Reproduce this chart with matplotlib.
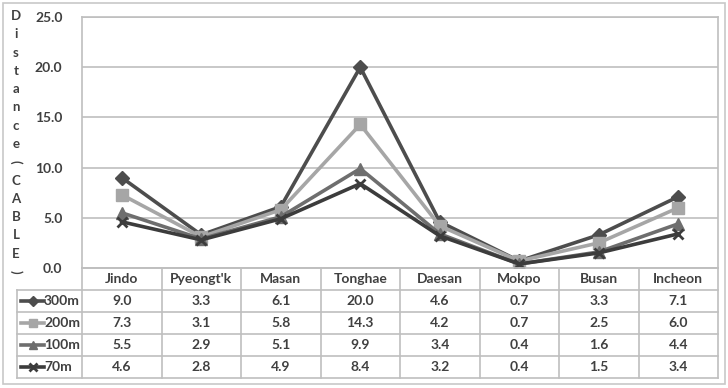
import matplotlib
matplotlib.use("Agg")
import matplotlib.pyplot as plt
from matplotlib.patches import Rectangle
from matplotlib.lines import Line2D

categories = ["Jindo", "Pyeongt'k", "Masan", "Tonghae", "Daesan", "Mokpo", "Busan", "Incheon"]
series_names = ["300m", "200m", "100m", "70m"]
s300 = [9.0, 3.3, 6.1, 20.0, 4.6, 0.7, 3.3, 7.1]
s200 = [7.3, 3.1, 5.8, 14.3, 4.2, 0.7, 2.5, 6.0]
s100 = [5.5, 2.9, 5.1, 9.9, 3.4, 0.4, 1.6, 4.4]
s70 = [4.6, 2.8, 4.9, 8.4, 3.2, 0.4, 1.5, 3.4]
series_values = [s300, s200, s100, s70]
yticks = [0.0, 5.0, 10.0, 15.0, 20.0, 25.0]
ylabel_chars = list("Distance(CABLE)")

colors = ["#4d4d4d", "#a6a6a6", "#6e6e6e", "#3c3c3c"]
markers = ["D", "s", "^", "x"]
msizes = [7, 8, 8, 7]

plt.rcParams['font.family'] = ['Lato', 'DejaVu Sans']
TXT = "#404040"
GRID = "#bfbfbf"
FS = 10

W, H = 728, 388
fig = plt.figure(figsize=(W / 100, H / 100), dpi=100)

def px(x0, y0, x1, y1):
    return [x0 / W, 1 - y1 / H, (x1 - x0) / W, (y1 - y0) / H]

# outer frame
fig.patches.append(Rectangle((3 / W, 1 - 384 / H), 722 / W, 381 / H, transform=fig.transFigure,
                             fill=False, edgecolor="#c8c8c8", lw=1.2))

L, R, T, B = 82, 718, 17, 268
ax = fig.add_axes(px(L, T, R, B))
n = len(categories)
x = list(range(n))
for vals, c, m, ms in zip(series_values, colors, markers, msizes):
    ax.plot(x, vals, color=c, lw=2.6, marker=m, markersize=ms, markeredgecolor=c,
            markeredgewidth=2 if m == "x" else 1, zorder=3)
ax.set_xlim(-0.5, n - 0.5)
ax.set_ylim(0, 25)
ax.set_yticks(yticks)
ax.set_yticklabels([f"{v:.1f}" for v in yticks], fontsize=FS, fontweight="bold", color=TXT)
ax.tick_params(axis="y", length=0, pad=14)
ax.set_xticks([])
ax.grid(axis="y", color=GRID, lw=1.2)
for sp in ax.spines.values():
    sp.set_color(GRID)
    sp.set_linewidth(1.2)
ax.set_axisbelow(True)

# vertical y label made of stacked characters
ny = len(ylabel_chars)
top_y, bot_y = 16, 272
for i, ch in enumerate(ylabel_chars):
    yy = top_y + (bot_y - top_y) * i / (ny - 1)
    rot = -90 if ch in "()" else 0
    fig.text(16 / W, 1 - yy / H, ch, fontsize=9.5, fontweight="bold", color=TXT,
             ha="center", va="center", rotation=rot)

# data table
TL, TT, TB = 17, 268, 378
colw = (R - L) / n
tax = fig.add_axes(px(TL, TT, R, TB))
xl = (TL - L) / colw - 0.5
tax.set_xlim(xl, n - 0.5)
nrows = len(series_names) + 1
tax.set_ylim(nrows, 0)
tax.axis("off")
for r in range(nrows + 1):
    x0 = -0.5 if r == 0 else xl
    tax.plot([x0, n - 0.5], [r, r], color=GRID, lw=1.2, clip_on=False)
tax.plot([xl, xl], [1, nrows], color=GRID, lw=1.2, clip_on=False)
for c in range(n + 1):
    tax.plot([c - 0.5, c - 0.5], [0, nrows], color=GRID, lw=1.2, clip_on=False)
for i, cat in enumerate(categories):
    tax.text(i, 0.5, cat, ha="center", va="center", fontsize=FS, fontweight="bold", color=TXT)
for r, (name, vals, c, m, ms) in enumerate(zip(series_names, series_values, colors, markers, msizes), start=1):
    for i, v in enumerate(vals):
        tax.text(i, r + 0.5, f"{v:.1f}", ha="center", va="center", fontsize=FS,
                 fontweight="bold", color=TXT)
    k0 = xl + 0.05
    k1 = xl + 0.34
    tax.add_line(Line2D([k0, k1], [r + 0.5, r + 0.5], color=c, lw=2.6))
    tax.add_line(Line2D([(k0 + k1) / 2], [r + 0.5], color=c, marker=m, markersize=ms * 0.8,
                        markeredgecolor=c, markeredgewidth=2 if m == "x" else 1))
    tax.text(k1, r + 0.5, name, ha="left", va="center", fontsize=FS, fontweight="bold", color=TXT)

fig.savefig("out.png", dpi=100)
